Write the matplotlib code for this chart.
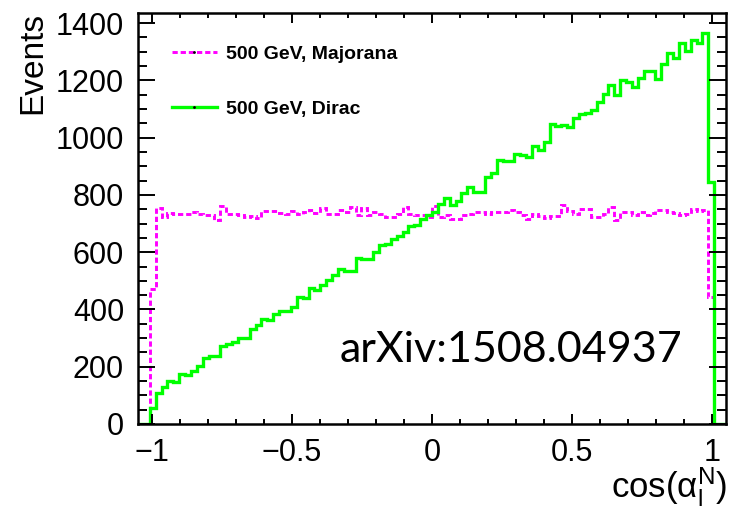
import numpy as np
import matplotlib
matplotlib.use("Agg")
import matplotlib.pyplot as plt
from matplotlib.lines import Line2D

plt.rcParams['font.family'] = ['Liberation Sans', 'DejaVu Sans']
plt.rcParams['mathtext.fontset'] = 'custom'
plt.rcParams['mathtext.rm'] = 'Liberation Sans'
plt.rcParams['mathtext.it'] = 'Liberation Sans'

# histogram binning: 100 bins on [-1.05, 1.05]
nbins = 100
xlo, xhi = -1.05, 1.05

# counts of the non-empty bins (bins 2..97)
majorana = [470, 753, 724, 738, 735, 733, 735, 742, 732, 730,
            730, 712, 761, 735, 735, 730, 724, 726, 721, 744,
            744, 744, 738, 735, 744, 735, 741, 748, 738, 753,
            735, 735, 747, 741, 759, 730, 753, 730, 741, 735,
            724, 724, 735, 759, 735, 730, 730, 724, 762, 724,
            729, 717, 717, 729, 733, 741, 741, 735, 739, 739,
            739, 747, 741, 729, 717, 735, 727, 721, 726, 726,
            764, 745, 733, 750, 750, 724, 724, 735, 759, 712,
            741, 739, 729, 739, 729, 738, 747, 747, 741, 738,
            729, 733, 750, 745, 748, 443]
dirac = [57, 109, 128, 151, 145, 175, 171, 184, 204, 232,
         236, 236, 272, 279, 286, 300, 300, 332, 346, 365,
         363, 384, 394, 396, 408, 443, 440, 475, 469, 487,
         504, 522, 540, 535, 535, 578, 575, 575, 602, 626,
         628, 646, 658, 670, 690, 694, 716, 730, 742, 770,
         788, 766, 780, 805, 827, 809, 811, 863, 877, 923,
         920, 919, 942, 939, 933, 970, 956, 985, 1049, 1040,
         1045, 1036, 1068, 1081, 1087, 1097, 1125, 1153, 1183, 1148,
         1200, 1193, 1176, 1208, 1231, 1231, 1204, 1256, 1294, 1278,
         1329, 1303, 1340, 1331, 1367, 846]
labels = ["500 GeV, Majorana", "500 GeV, Dirac"]

edges = np.linspace(xlo, xhi, nbins + 1)
pad = np.zeros(2)
h_maj = np.concatenate([pad, majorana, pad])
h_dir = np.concatenate([pad, dirac, pad])

fig = plt.figure(figsize=(7.29, 5.09), dpi=100)
ax = fig.add_axes([0.1893, 0.167, 0.8066, 0.8075])

dash = (0, (1.8, 1.0))
ax.stairs(h_maj, edges, color='#ff00ff', lw=2.1, linestyle=dash)
ax.stairs(h_dir, edges, color='#00ff00', lw=2.4)

ax.set_xlim(xlo, xhi)
ax.set_ylim(0, 1.05 * max(dirac))
ax.set_xticks([-1, -0.5, 0, 0.5, 1])
ax.set_xticklabels(['\u22121', '\u22120.5', '0', '0.5', '1'])
ax.set_xticks(np.arange(-1.0, 1.01, 0.1), minor=True)
ax.set_yticks(np.arange(0, 1401, 200))
ax.set_yticks(np.arange(0, 1401, 50), minor=True)

for s in ax.spines.values():
    s.set_linewidth(1.8)
ax.tick_params(which='both', direction='in', top=True, right=True, width=1.4,
               labelsize=22)
ax.tick_params(axis='x', which='major', length=7.5, pad=10)
ax.tick_params(axis='x', which='minor', length=3.8)
ax.tick_params(axis='y', which='major', length=12.5, pad=10)
ax.tick_params(axis='y', which='minor', length=6.5)

fig.text(33 / 729, 1 - 12 / 509, 'Events', rotation=90, ha='center', va='top',
         fontsize=24)
fig.text(727 / 729, (509 - 487) / 509, r'cos($\mathregular{\alpha_{l}^{N}}$)',
         ha='right', va='center', fontsize=25)

handles = [Line2D([], [], color='#ff00ff', lw=2.1, linestyle=dash,
                  marker='.', markersize=2, mfc='k', mec='k'),
           Line2D([], [], color='#00ff00', lw=2.4,
                  marker='.', markersize=2, mfc='k', mec='k')]
ax.legend(handles, labels, loc='upper left', bbox_to_anchor=(0.058, 0.922),
          frameon=False, borderpad=0, borderaxespad=0, handlelength=2.3,
          handletextpad=0.45, labelspacing=1.95,
          prop={'size': 14, 'weight': 'bold'})

ax.text(0.343, 0.18, 'arXiv:1508.04937', transform=ax.transAxes,
        ha='left', va='center', fontsize=31, family=['Lato', 'DejaVu Sans'])

fig.savefig('out.png', dpi=100)
